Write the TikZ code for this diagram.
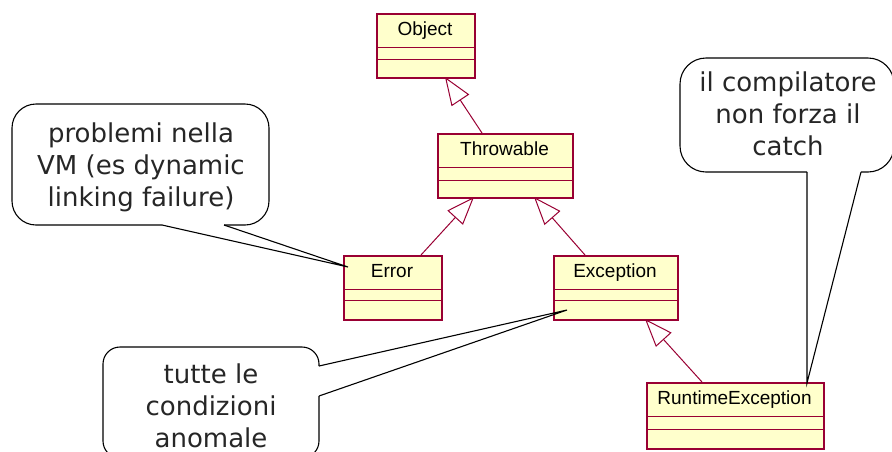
\documentclass[tikz,border=0pt]{standalone}
\usepackage{fontspec}
\usetikzlibrary{arrows.meta}
\newfontfamily\classfont{Liberation Sans}
\newfontfamily\notefont{DejaVu Sans}
\definecolor{umlred}{HTML}{990033}
\definecolor{umlfill}{HTML}{FFFFCC}

\tikzset{
  classbox/.style={draw=umlred, fill=umlfill, line width=1.5pt, inner sep=0pt},
  sepline/.style={draw=umlred, line width=1pt},
  classname/.style={font=\classfont\fontsize{19}{21}\selectfont, inner sep=0pt,
                    text height=13.5pt, text depth=3.5pt},
  inherit/.style={draw=umlred, line width=1pt,
                  -{Triangle[open, length=28pt, width=21pt]}},
  bubble/.style={draw=black, line width=1.1pt, rounded corners=#1},
  pointer/.style={draw=black, line width=1.1pt},
  notetext/.style={font=\notefont\fontsize{26}{32}\selectfont, align=center,
                   inner sep=0pt, text=black!85}
}

% class box: name, x1, y1, x2, y2, first separator, second separator, label
\newcommand\umlclass[8]{%
  \node[classbox, anchor=north west, minimum width={(#4-#2)*1pt},
        minimum height={(#5-#3)*1pt}] (#1) at (#2,#3) {};
  \draw[sepline] (#2,#6) -- (#4,#6);
  \draw[sepline] (#2,#7) -- (#4,#7);
  \node[classname] (#1-label) at ({(#2+#4)/2},{(#3+#6)/2}) {#8};
}

\begin{document}
\begin{tikzpicture}[x=1pt, y=-1pt]
  \useasboundingbox (0,0) rectangle (892,451);
  \clip (0,0) rectangle (892,451);

  % class hierarchy
  \umlclass{obj}{376}{13}{474}{77}{47}{59}{Object}
  \umlclass{thr}{437}{133}{572}{197}{167}{180}{Throwable}
  \umlclass{err}{343}{255}{441}{319}{289}{300}{Error}
  \umlclass{exc}{553}{255}{677}{319}{289}{300}{Exception}
  \umlclass{rte}{646}{382}{823}{448}{416}{429}{RuntimeException}

  % attachment points of the generalisation arrows
  \coordinate (obj-in)  at (445,77);
  \coordinate (thr-out) at (482,133);
  \coordinate (thr-inl) at (474,197);
  \coordinate (thr-inr) at (534,197);
  \coordinate (err-out) at (421,255);
  \coordinate (exc-out) at (585,255);
  \coordinate (exc-in)  at (645,319);
  \coordinate (rte-out) at (702,382);

  \draw[inherit] (thr-out) -- (obj-in);
  \draw[inherit] (err-out) -- (thr-inl);
  \draw[inherit] (exc-out) -- (thr-inr);
  \draw[inherit] (rte-out) -- (exc-in);

  % note on Error
  \node[notetext] (note-err) at (141,167) {problemi nella\\VM (es dynamic\\linking failure)};
  \coordinate (ne-a) at (162,225);
  \coordinate (ne-b) at (224,225);
  \coordinate (ne-t) at (348,267);
  \draw[bubble=24] (ne-a) -- (12,225) -- (12,104) -- (269,104) -- (269,225) -- (ne-b);
  \draw[pointer] (ne-a) -- (ne-t) -- (ne-b);

  % note on Exception
  \node[notetext] (note-exc) at (211,406) {tutte le\\condizioni\\anomale};
  \coordinate (nx-a) at (319,366);
  \coordinate (nx-b) at (319,396);
  \coordinate (nx-t) at (567,310);
  \draw[bubble=17] (nx-a) -- (319,347) -- (103,347) -- (103,458) -- (319,458) -- (nx-b);
  \draw[pointer] (nx-a) -- (nx-t) -- (nx-b);

  % note on RuntimeException
  \node[notetext] (note-rte) at (788,114) {il compilatore\\non forza il\\catch};
  \coordinate (nr-a) at (807,172);
  \coordinate (nr-b) at (861,172);
  \coordinate (nr-t) at (807,383);
  \draw[bubble=26] (nr-a) -- (680,172) -- (680,58) -- (894,58) -- (894,172) -- (nr-b);
  \draw[pointer] (nr-a) -- (nr-t) -- (nr-b);
\end{tikzpicture}
\end{document}
